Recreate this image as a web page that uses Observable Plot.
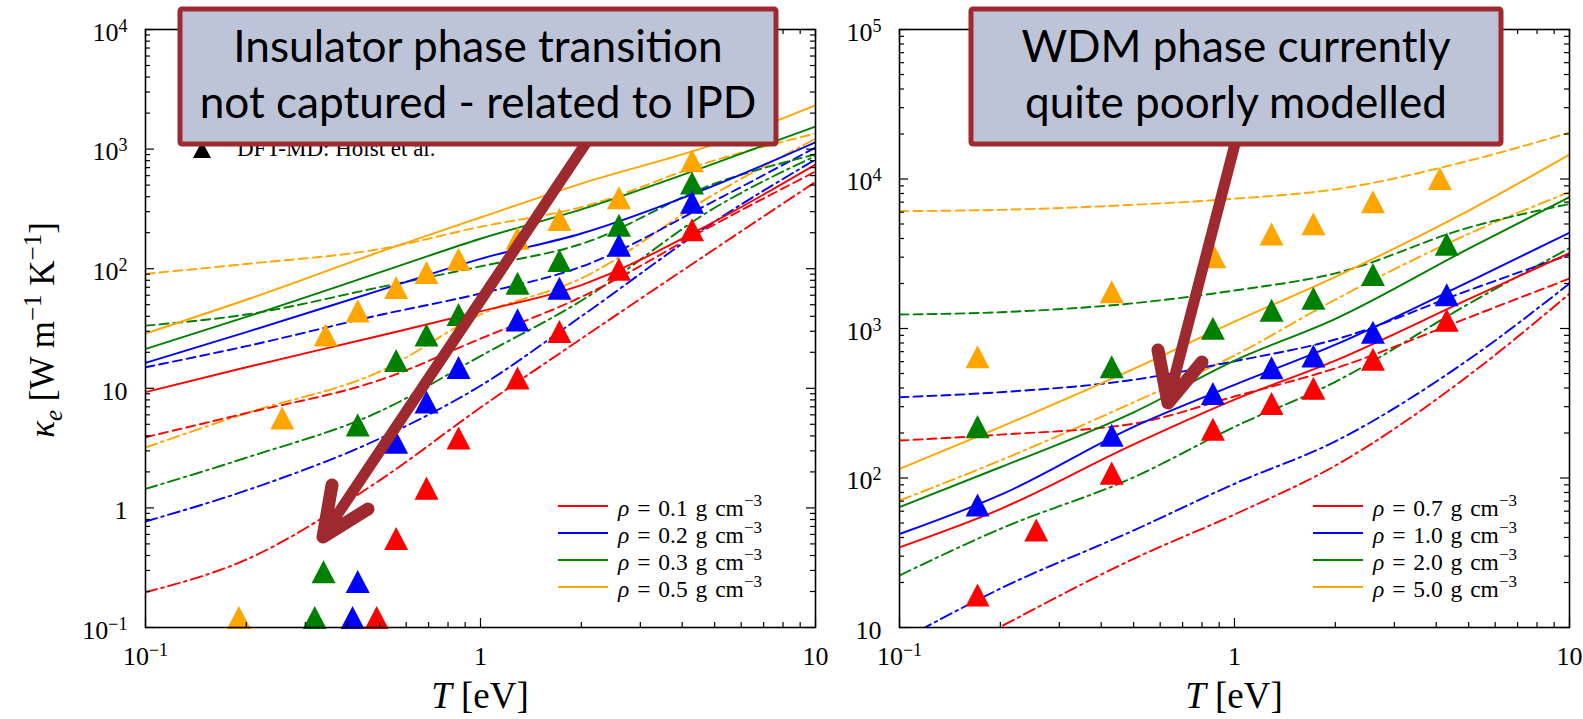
<!DOCTYPE html>
<html>
<head>
<meta charset="utf-8">
<script src="https://cdn.jsdelivr.net/npm/d3@7"></script>
<script src="https://cdn.jsdelivr.net/npm/@observablehq/plot@0.6"></script>
<style>
  body { margin: 0; background: #fff; }
  #fig { position: relative; width: 1583px; height: 719px; overflow: hidden; background: #fff; }
  #fig > svg { position: absolute; top: 0; }
</style>
</head>
<body>
<div id="fig"></div>
<script>
// ---- data -------------------------------------------------------------
// Temperature grid of the model curves (eV)
const gridT = [0.1, 0.2, 0.5, 1, 2, 5, 10];
const colors = ["#ff0000", "#0000ff", "#008000", "#ffa500"];
const densLow = ["0.1", "0.2", "0.3", "0.5"];
const densHigh = ["0.7", "1.0", "2.0", "5.0"];
const ticksT = [0.1, 1, 10];
const ticksLow = [0.1, 1, 10, 100, 1000, 10000];
const ticksHigh = [10, 100, 1000, 10000, 100000];

// Electron thermal conductivity κe (W m^-1 K^-1) on gridT; rows: densities in order
const lowSolid = [
  [9.3, 15.0, 27.5, 44, 73, 248, 743],
  [16.3, 29.5, 66, 121, 197, 498, 1142],
  [21.3, 39.5, 93, 178, 313, 760, 1545],
  [28.7, 55, 138, 268, 515, 1100, 2320]
];
const lowDashed = [
  [3.9, 6.2, 11.7, 26, 58, 235, 650],
  [15.0, 22.5, 41, 62, 104, 370, 1032],
  [33.4, 41.4, 70, 104.5, 161, 515, 904],
  [90.6, 109.6, 146, 224, 327, 805, 1350]
];
const lowDashDot = [
  [0.197, 0.37, 1.7, 6.9, 26, 146, 532],
  [0.77, 1.40, 3.8, 10.5, 40, 248, 818],
  [1.44, 2.63, 6.4, 18.6, 54, 323, 876],
  [3.2, 6.2, 13.8, 41.4, 83, 422, 1220]
];
const highSolid = [
  [34.4, 62, 168, 335, 610, 1570, 3200],
  [42.2, 77, 220, 420, 780, 2050, 4375],
  [63.8, 118, 275, 610, 1160, 3420, 7570],
  [115, 219, 537, 1110, 2218, 6140, 14550]
];
const highDashed = [
  [178, 195, 231, 351, 542, 1185, 2160],
  [347, 375, 454, 604, 844, 1800, 3120],
  [1240, 1285, 1476, 1795, 2337, 4730, 6810],
  [6095, 6220, 6720, 7380, 8530, 13240, 20400]
];
const highDashDot = [
  [4.4, 10.1, 28.8, 57, 121, 485, 1710],
  [8.1, 18.2, 44.6, 91.5, 176, 620, 2000],
  [22.3, 45.7, 101, 220, 440, 1462, 3450],
  [70.7, 131, 321, 660, 1560, 4300, 8170]
];

// DFT-MD points, [T (eV), κe]; rows: densities in order
const lowDft = [
  [[0.49, 0.12], [0.56, 0.55], [0.69, 1.45], [0.86, 3.8], [1.29, 12.1], [1.72, 29.6], [2.59, 98], [4.28, 210]],
  [[0.415, 0.12], [0.43, 0.24], [0.56, 3.5], [0.69, 7.6], [0.86, 14.8], [1.29, 37], [1.72, 68], [2.59, 156], [4.28, 357]],
  [[0.32, 0.12], [0.34, 0.29], [0.43, 4.9], [0.56, 16.9], [0.69, 27.7], [0.86, 41], [1.29, 75], [1.72, 116], [2.59, 229], [4.28, 515]],
  [[0.19, 0.12], [0.256, 5.6], [0.345, 27.7], [0.43, 44], [0.56, 69], [0.69, 92], [0.86, 119], [1.29, 178], [1.72, 256], [2.59, 389], [4.28, 792]]
];
const highDft = [
  [[0.171, 16.4], [0.256, 44.6], [0.43, 107], [0.862, 210], [1.29, 313], [1.72, 396], [2.59, 618], [4.3, 1127]],
  [[0.171, 65.5], [0.43, 192], [0.862, 365], [1.29, 542], [1.72, 650], [2.59, 937], [4.3, 1667]],
  [[0.171, 219], [0.43, 551], [0.862, 995], [1.29, 1315], [1.72, 1580], [2.59, 2280], [4.3, 3640]],
  [[0.171, 643], [0.43, 1750], [0.87, 3000], [1.29, 4260], [1.72, 4990], [2.59, 7000], [4.1, 10000]]
];

// ---- helpers ----------------------------------------------------------
const SERIF = "'Liberation Serif', 'DejaVu Serif', serif";
const SANS = "Lato, 'Open Sans', sans-serif";
const ARROW = "#9e2a2f";
const H = 719, MT = 29, MB = 92;

function modelRows(table, dens) {
  return table.flatMap((ks, i) => ks.map((k, j) => ({T: gridT[j], k, dens: dens[i]})));
}
function dftRows(table, dens) {
  // last density first so the lowest one ends up on top
  return [...table.keys()].reverse().flatMap(i => table[i].map(([T, k]) => ({T, k, dens: dens[i]})));
}
function minorTicks(lo, hi) {
  const out = [];
  for (let e = Math.round(Math.log10(lo)); e < Math.round(Math.log10(hi)); e++)
    for (let m = 2; m <= 9; m++) out.push(m * Math.pow(10, e));
  return out;
}
function powLabel(v) {
  const e = Math.round(Math.log10(v));
  if (e === 0) return "1";
  if (e === 1) return "10";
  return "10^" + (e < 0 ? "\u2212" + (-e) : e);
}
// matplotlib-style upward triangle, centred on its bounding box
const triangleUp = {
  draw(ctx, size) {
    const r = Math.sqrt(size / Math.PI);
    ctx.moveTo(0, -r);
    ctx.lineTo(r, r * 0.92);
    ctx.lineTo(-r, r * 0.92);
    ctx.closePath();
  }
};
// writes segments [{t, italic, shift, size}] into a text element
function richText(sel, parts) {
  let cur = 0;
  for (const p of parts) {
    const s = p.shift || 0;
    const ts = sel.append("tspan").text(p.t);
    if (s !== cur) ts.attr("dy", s - cur);
    if (p.italic) ts.attr("font-style", "italic");
    if (p.size) ts.attr("font-size", p.size);
    cur = s;
  }
}

function panel({width, marginLeft, marginRight, yDomain, yTicks, dens, solid, dashed, dashdot, dft}) {
  const pw = width - marginLeft - marginRight, ph = H - MT - MB;
  const line = (table, dash) => Plot.line(modelRows(table, dens), {
    x: "T", y: "k", z: "dens", stroke: "dens", strokeWidth: 1.9,
    strokeDasharray: dash, curve: "monotone-x", clip: true
  });
  const tk = {stroke: "black", strokeWidth: 1.2};
  const xMin = minorTicks(0.1, 10), yMin = minorTicks(yDomain[0], yDomain[1]);
  return Plot.plot({
    width, height: H, marginLeft, marginRight, marginTop: MT, marginBottom: MB,
    x: {type: "log", domain: [0.1, 10]},
    y: {type: "log", domain: yDomain},
    color: {domain: dens, range: colors},
    style: {fontFamily: SERIF, background: "transparent", overflow: "visible", color: "black"},
    marks: [
      line(dashdot, "12,4.5,2.5,4.5"),
      line(dashed, "9,5"),
      line(solid, null),
      Plot.dot(dftRows(dft, dens), {x: "T", y: "k", fill: "dens", symbol: triangleUp, r: 12}),
      Plot.tickY(yTicks, {y: d => d, insetRight: pw - 9, ...tk}),
      Plot.tickY(yTicks, {y: d => d, insetLeft: pw - 9, ...tk}),
      Plot.tickY(yMin, {y: d => d, insetRight: pw - 5, ...tk}),
      Plot.tickY(yMin, {y: d => d, insetLeft: pw - 5, ...tk}),
      Plot.tickX(ticksT, {x: d => d, insetTop: ph - 9, ...tk}),
      Plot.tickX(ticksT, {x: d => d, insetBottom: ph - 9, ...tk}),
      Plot.tickX(xMin, {x: d => d, insetTop: ph - 5, ...tk}),
      Plot.tickX(xMin, {x: d => d, insetBottom: ph - 5, ...tk}),
      Plot.frame({stroke: "black", strokeWidth: 1.6}),
      Plot.axisX({ticks: ticksT, tickSize: 0, tickPadding: 19, tickFormat: powLabel, fontSize: 26, label: null}),
      Plot.axisY({ticks: yTicks, tickSize: 0, tickPadding: 18, tickFormat: powLabel, fontSize: 26, label: null, dy: 3})
    ]
  });
}

function superscripts(svg) {
  d3.select(svg).selectAll('g[aria-label$="tick label"] text').each(function () {
    const s = this.textContent, i = s.indexOf("^");
    if (i < 0) return;
    const t = d3.select(this).text(null);
    richText(t, [{t: s.slice(0, i)}, {t: s.slice(i + 1), shift: -9, size: 18}]);
  });
}

function legend(svg, x0, y0, dens) {
  const g = d3.select(svg).append("g").attr("font-family", SERIF).attr("font-size", 23.5)
    .attr("text-anchor", "start").attr("word-spacing", 2);
  dens.forEach((d, i) => {
    const y = y0 + 27 * i;
    g.append("line").attr("x1", x0).attr("x2", x0 + 50).attr("y1", y).attr("y2", y)
      .attr("stroke", colors[i]).attr("stroke-width", 1.9);
    const t = g.append("text").attr("x", x0 + 60).attr("y", y + 10);
    richText(t, [{t: "\u03c1", italic: true}, {t: " = " + d + " g cm"}, {t: "\u22123", shift: -10, size: 17}]);
  });
}

function axisTitles(svg, xc, yTitle) {
  const s = d3.select(svg);
  const tx = s.append("text").attr("x", xc).attr("y", 708).attr("text-anchor", "middle")
    .attr("font-family", SERIF).attr("font-size", 37);
  richText(tx, [{t: "T", italic: true}, {t: " [eV]"}]);
  if (yTitle) {
    const ty = s.append("text").attr("transform", "translate(54,330) rotate(-90)")
      .attr("text-anchor", "middle").attr("font-family", SERIF).attr("font-size", 35);
    richText(ty, [
      {t: "\u03ba", italic: true}, {t: "e", italic: true, shift: 8, size: 25},
      {t: " [W m"}, {t: "\u22121", shift: -13, size: 25},
      {t: " K"}, {t: "\u22121", shift: -13, size: 25}, {t: "]"}
    ]);
  }
}

// ---- panels -----------------------------------------------------------
const fig = document.getElementById("fig");

const left = panel({
  width: 830, marginLeft: 145, marginRight: 15, yDomain: [0.1, 1e4], yTicks: ticksLow,
  dens: densLow, solid: lowSolid, dashed: lowDashed, dashdot: lowDashDot, dft: lowDft
});
left.style.left = "0px";
fig.appendChild(left);
superscripts(left);
axisTitles(left, 480, true);
legend(left, 558, 506, densLow);
// DFT-MD key entry
{
  const g = d3.select(left).append("g").attr("font-family", SERIF).attr("font-size", 23)
    .attr("text-anchor", "start");
  g.append("path").attr("d", "M202,141L211,158L193,158Z").attr("fill", "black");
  g.append("text").attr("x", 237).attr("y", 156).text("DFT-MD: Holst et al.");
}

const right = panel({
  width: 753, marginLeft: 69, marginRight: 14, yDomain: [10, 1e5], yTicks: ticksHigh,
  dens: densHigh, solid: highSolid, dashed: highDashed, dashdot: highDashDot, dft: highDft
});
right.style.left = "830px";
fig.appendChild(right);
superscripts(right);
axisTitles(right, 404, false);
legend(right, 483, 506, densHigh);

// ---- call-out boxes and arrows ------------------------------------------
const ov = d3.select(fig).append("svg").attr("width", 1583).attr("height", 719)
  .style("left", "0px").style("pointer-events", "none");

function shaft(x1, y1, x2, y2) {
  ov.append("line").attr("x1", x1).attr("y1", y1).attr("x2", x2).attr("y2", y2)
    .attr("stroke", ARROW).attr("stroke-width", 11).attr("stroke-linecap", "round");
}
function head(pts) {
  ov.append("path").attr("d", "M" + pts.map(p => p.join(",")).join("L"))
    .attr("fill", "none").attr("stroke", ARROW).attr("stroke-width", 13)
    .attr("stroke-linecap", "round").attr("stroke-linejoin", "round");
}
function callout(x, y, w, h, lines, targets, baselines) {
  ov.append("rect").attr("x", x).attr("y", y).attr("width", w).attr("height", h)
    .attr("fill", "#bec4d7").attr("stroke", ARROW).attr("stroke-width", 5).attr("rx", 2);
  const cx = x + w / 2;
  const texts = lines.map((s, i) => ov.append("text").attr("x", cx).attr("y", baselines[i])
    .attr("text-anchor", "middle").attr("font-family", SANS).attr("font-size", 40).attr("fill", "black").text(s));
  let ratio = 0;
  texts.forEach((t, i) => { ratio += targets[i] / t.node().getComputedTextLength(); });
  const fs = 40 * ratio / texts.length;
  texts.forEach(t => t.attr("font-size", fs));
}

shaft(588, 140, 323, 536);
shaft(1236, 140, 1168, 402);
callout(180, 9, 596, 135, ["Insulator phase transition", "not captured - related to IPD"], [493, 553], [62, 118]);
callout(971, 9, 530, 135, ["WDM phase currently", "quite poorly modelled"], [423, 428], [62, 118]);
head([[332, 485], [323, 537], [368, 509]]);
head([[1158, 350], [1168, 403], [1202, 362]]);
</script>
</body>
</html>
